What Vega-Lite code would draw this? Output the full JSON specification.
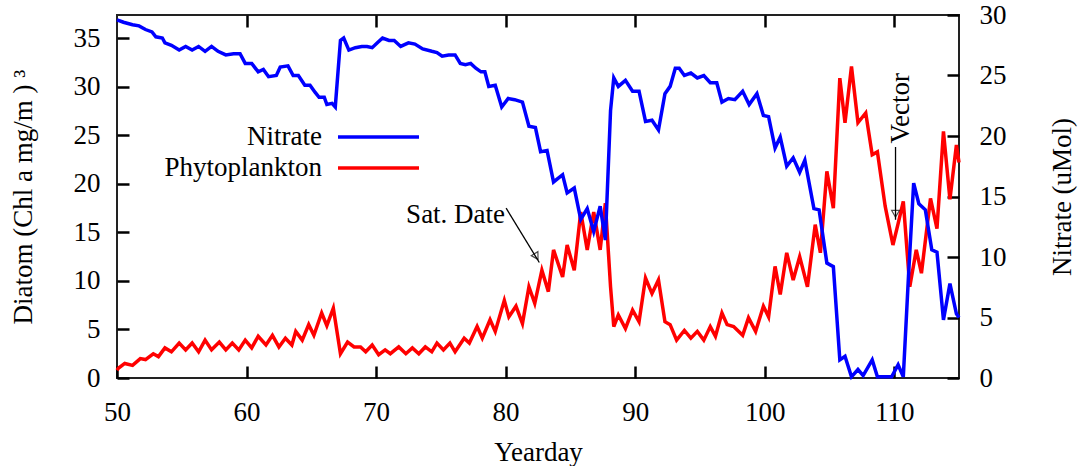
{
  "$schema": "https://vega.github.io/schema/vega-lite/v6.json",
  "width": 842,
  "height": 363,
  "autosize": {"type": "none"},
  "padding": {"left": 117, "top": 15, "right": 120, "bottom": 88},
  "background": "white",
  "config": {
    "view": {"stroke": "#222", "strokeWidth": 2},
    "font": "Liberation Serif",
    "axis": {"labelFont": "Liberation Serif", "titleFont": "Liberation Serif", "labelFontSize": 27, "titleFontSize": 27, "labelColor": "#000", "titleColor": "#000", "titleFontWeight": "normal", "domain": false, "grid": false, "ticks": true, "tickColor": "black", "tickWidth": 2.5, "tickSize": -12}
  },
  "datasets": {
    "phyto": [
      {"day": 50.0, "value": 0.8}, {"day": 50.1, "value": 1.0}, {"day": 50.6, "value": 1.5}, {"day": 51.2, "value": 1.3},
      {"day": 51.8, "value": 2.0}, {"day": 52.2, "value": 1.9}, {"day": 52.8, "value": 2.5}, {"day": 53.2, "value": 2.2},
      {"day": 53.7, "value": 3.1}, {"day": 54.2, "value": 2.7}, {"day": 54.8, "value": 3.6}, {"day": 55.3, "value": 2.9},
      {"day": 55.8, "value": 3.6}, {"day": 56.3, "value": 2.7}, {"day": 56.8, "value": 3.9}, {"day": 57.3, "value": 2.9},
      {"day": 57.9, "value": 3.7}, {"day": 58.4, "value": 2.9}, {"day": 58.9, "value": 3.6}, {"day": 59.4, "value": 2.9},
      {"day": 59.9, "value": 3.9}, {"day": 60.4, "value": 3.1}, {"day": 60.9, "value": 4.3}, {"day": 61.5, "value": 3.4},
      {"day": 62.0, "value": 4.4}, {"day": 62.5, "value": 3.2}, {"day": 63.0, "value": 4.1}, {"day": 63.5, "value": 3.4},
      {"day": 63.8, "value": 4.8}, {"day": 64.3, "value": 3.9}, {"day": 64.8, "value": 5.5}, {"day": 65.2, "value": 4.4},
      {"day": 65.8, "value": 6.7}, {"day": 66.2, "value": 5.4}, {"day": 66.7, "value": 7.2}, {"day": 67.25, "value": 2.5},
      {"day": 67.8, "value": 3.7}, {"day": 68.3, "value": 3.2}, {"day": 68.8, "value": 3.2}, {"day": 69.2, "value": 2.7},
      {"day": 69.7, "value": 3.4}, {"day": 70.2, "value": 2.4}, {"day": 70.7, "value": 2.9}, {"day": 71.1, "value": 2.5},
      {"day": 71.75, "value": 3.2}, {"day": 72.3, "value": 2.5}, {"day": 72.8, "value": 3.1}, {"day": 73.3, "value": 2.5},
      {"day": 73.8, "value": 3.2}, {"day": 74.3, "value": 2.7}, {"day": 74.7, "value": 3.6}, {"day": 75.2, "value": 2.9},
      {"day": 75.7, "value": 3.6}, {"day": 76.1, "value": 2.7}, {"day": 76.8, "value": 4.1}, {"day": 77.2, "value": 3.6},
      {"day": 77.8, "value": 5.3}, {"day": 78.2, "value": 4.1}, {"day": 78.8, "value": 6.0}, {"day": 79.2, "value": 4.8},
      {"day": 79.9, "value": 8.0}, {"day": 80.25, "value": 6.3}, {"day": 80.8, "value": 7.4}, {"day": 81.3, "value": 5.6},
      {"day": 81.8, "value": 9.4}, {"day": 82.25, "value": 7.7}, {"day": 82.8, "value": 11.1}, {"day": 83.3, "value": 8.9},
      {"day": 83.7, "value": 13.2}, {"day": 84.4, "value": 10.4}, {"day": 84.75, "value": 13.7}, {"day": 85.3, "value": 11.1},
      {"day": 85.8, "value": 17.1}, {"day": 86.3, "value": 13.2}, {"day": 86.8, "value": 17.1}, {"day": 87.3, "value": 13.2},
      {"day": 87.7, "value": 18.0}, {"day": 88.1, "value": 9.4}, {"day": 88.35, "value": 5.3}, {"day": 88.7, "value": 6.5},
      {"day": 89.25, "value": 5.1}, {"day": 89.8, "value": 7.0}, {"day": 90.3, "value": 5.8}, {"day": 90.8, "value": 10.3},
      {"day": 91.3, "value": 8.7}, {"day": 91.8, "value": 10.1}, {"day": 92.3, "value": 5.8}, {"day": 92.7, "value": 5.5},
      {"day": 93.2, "value": 3.9}, {"day": 93.8, "value": 4.9}, {"day": 94.3, "value": 4.1}, {"day": 94.8, "value": 4.8},
      {"day": 95.3, "value": 3.9}, {"day": 95.8, "value": 5.3}, {"day": 96.2, "value": 4.3}, {"day": 96.7, "value": 6.7},
      {"day": 97.1, "value": 5.5}, {"day": 97.6, "value": 5.3}, {"day": 98.3, "value": 4.4}, {"day": 98.75, "value": 6.2},
      {"day": 99.3, "value": 4.8}, {"day": 99.9, "value": 7.4}, {"day": 100.3, "value": 6.3}, {"day": 100.8, "value": 11.5},
      {"day": 101.2, "value": 8.6}, {"day": 101.7, "value": 12.9}, {"day": 102.2, "value": 10.1}, {"day": 102.7, "value": 12.5},
      {"day": 103.3, "value": 9.4}, {"day": 103.9, "value": 15.8}, {"day": 104.3, "value": 12.9}, {"day": 104.8, "value": 21.3},
      {"day": 105.3, "value": 17.5}, {"day": 105.8, "value": 30.9}, {"day": 106.2, "value": 26.3}, {"day": 106.7, "value": 32.1},
      {"day": 107.2, "value": 26.3}, {"day": 107.8, "value": 27.3}, {"day": 108.3, "value": 23.0}, {"day": 108.7, "value": 23.3},
      {"day": 109.3, "value": 17.7}, {"day": 109.9, "value": 13.7}, {"day": 110.3, "value": 15.9}, {"day": 110.7, "value": 18.2},
      {"day": 111.2, "value": 9.4}, {"day": 111.7, "value": 13.2}, {"day": 112.1, "value": 10.8}, {"day": 112.8, "value": 18.5},
      {"day": 113.3, "value": 15.4}, {"day": 113.8, "value": 25.4}, {"day": 114.3, "value": 18.4}, {"day": 114.8, "value": 24.0},
      {"day": 115.0, "value": 22.2}
    ],
    "nitrate": [
      {"day": 50.0, "value": 29.6}, {"day": 50.5, "value": 29.4}, {"day": 51.2, "value": 29.2}, {"day": 51.7, "value": 29.1},
      {"day": 52.2, "value": 28.8}, {"day": 52.7, "value": 28.6}, {"day": 53.0, "value": 28.2}, {"day": 53.5, "value": 28.1},
      {"day": 53.7, "value": 27.7}, {"day": 54.2, "value": 27.5}, {"day": 54.8, "value": 27.1}, {"day": 55.3, "value": 27.4},
      {"day": 55.8, "value": 27.1}, {"day": 56.3, "value": 27.4}, {"day": 56.8, "value": 27.0}, {"day": 57.3, "value": 27.4},
      {"day": 57.8, "value": 27.0}, {"day": 58.4, "value": 26.7}, {"day": 59.0, "value": 26.8}, {"day": 59.5, "value": 26.8},
      {"day": 59.9, "value": 26.0}, {"day": 60.4, "value": 26.0}, {"day": 60.9, "value": 25.3}, {"day": 61.3, "value": 25.5},
      {"day": 61.7, "value": 24.9}, {"day": 62.3, "value": 25.0}, {"day": 62.6, "value": 25.7}, {"day": 63.2, "value": 25.8},
      {"day": 63.6, "value": 25.0}, {"day": 64.0, "value": 25.0}, {"day": 64.5, "value": 24.2}, {"day": 64.9, "value": 24.2},
      {"day": 65.3, "value": 23.6}, {"day": 65.6, "value": 23.2}, {"day": 66.0, "value": 23.2}, {"day": 66.2, "value": 22.6},
      {"day": 66.6, "value": 22.7}, {"day": 66.85, "value": 22.4}, {"day": 67.25, "value": 27.9}, {"day": 67.5, "value": 28.1},
      {"day": 67.9, "value": 27.1}, {"day": 68.4, "value": 27.3}, {"day": 68.9, "value": 27.4}, {"day": 69.3, "value": 27.4},
      {"day": 69.7, "value": 27.3}, {"day": 70.1, "value": 27.7}, {"day": 70.5, "value": 28.1}, {"day": 71.0, "value": 27.9},
      {"day": 71.4, "value": 27.9}, {"day": 71.9, "value": 27.4}, {"day": 72.5, "value": 27.7}, {"day": 73.0, "value": 27.6},
      {"day": 73.6, "value": 27.2}, {"day": 74.3, "value": 27.0}, {"day": 74.7, "value": 26.9}, {"day": 75.1, "value": 26.6},
      {"day": 75.6, "value": 26.7}, {"day": 76.1, "value": 26.7}, {"day": 76.5, "value": 26.0}, {"day": 76.9, "value": 25.9},
      {"day": 77.3, "value": 26.0}, {"day": 77.7, "value": 25.6}, {"day": 78.1, "value": 25.3}, {"day": 78.4, "value": 25.3},
      {"day": 78.7, "value": 24.1}, {"day": 79.2, "value": 24.2}, {"day": 79.7, "value": 22.4}, {"day": 80.2, "value": 23.1},
      {"day": 80.7, "value": 23.0}, {"day": 81.3, "value": 22.8}, {"day": 81.8, "value": 20.8}, {"day": 82.3, "value": 20.7},
      {"day": 82.7, "value": 18.7}, {"day": 83.2, "value": 18.8}, {"day": 83.7, "value": 16.2}, {"day": 84.4, "value": 16.8},
      {"day": 84.75, "value": 15.3}, {"day": 85.3, "value": 15.7}, {"day": 85.8, "value": 13.1}, {"day": 86.3, "value": 14.0},
      {"day": 86.8, "value": 12.1}, {"day": 87.3, "value": 14.2}, {"day": 87.7, "value": 11.4}, {"day": 88.1, "value": 22.1},
      {"day": 88.35, "value": 24.8}, {"day": 88.7, "value": 24.1}, {"day": 89.25, "value": 24.6}, {"day": 89.8, "value": 23.7},
      {"day": 90.3, "value": 23.7}, {"day": 90.8, "value": 21.2}, {"day": 91.3, "value": 21.3}, {"day": 91.8, "value": 20.5},
      {"day": 92.3, "value": 23.5}, {"day": 92.7, "value": 24.1}, {"day": 93.1, "value": 25.6}, {"day": 93.4, "value": 25.6},
      {"day": 93.8, "value": 25.0}, {"day": 94.3, "value": 25.2}, {"day": 94.8, "value": 24.8}, {"day": 95.3, "value": 25.0},
      {"day": 95.8, "value": 24.4}, {"day": 96.3, "value": 24.4}, {"day": 96.7, "value": 22.8}, {"day": 97.2, "value": 23.1},
      {"day": 97.7, "value": 23.0}, {"day": 98.3, "value": 23.7}, {"day": 98.8, "value": 22.6}, {"day": 99.4, "value": 23.5},
      {"day": 99.9, "value": 21.7}, {"day": 100.3, "value": 21.6}, {"day": 100.8, "value": 19.0}, {"day": 101.2, "value": 19.9},
      {"day": 101.7, "value": 17.5}, {"day": 102.2, "value": 18.2}, {"day": 102.7, "value": 17.0}, {"day": 103.1, "value": 18.0},
      {"day": 103.8, "value": 14.0}, {"day": 104.2, "value": 13.9}, {"day": 104.8, "value": 9.5}, {"day": 105.3, "value": 9.2},
      {"day": 105.8, "value": 1.5}, {"day": 106.2, "value": 1.8}, {"day": 106.7, "value": 0.1}, {"day": 107.2, "value": 0.7},
      {"day": 107.6, "value": 0.2}, {"day": 108.3, "value": 1.5}, {"day": 108.7, "value": 0.1}, {"day": 109.3, "value": 0.1},
      {"day": 109.8, "value": 0.1}, {"day": 110.3, "value": 1.1}, {"day": 110.7, "value": 0.1}, {"day": 111.1, "value": 8.4},
      {"day": 111.5, "value": 16.1}, {"day": 111.9, "value": 14.4}, {"day": 112.4, "value": 13.9}, {"day": 112.9, "value": 10.6},
      {"day": 113.3, "value": 10.4}, {"day": 113.8, "value": 4.8}, {"day": 114.3, "value": 7.8}, {"day": 114.8, "value": 5.3},
      {"day": 115.0, "value": 5.0}
    ],
    "labels": [
      {"day": 79.96, "value": 16.8, "text": "Sat. Date", "kind": "sat"},
      {"day": 110.5, "value": 27.8, "text": "Vector", "kind": "vec"}
    ],
    "arrows": [
      {"day": 80.04, "value": 17.5, "day2": 82.6, "value2": 11.9, "kind": "sat"},
      {"day": 110.1, "value": 23.8, "day2": 110.1, "value2": 16.3, "kind": "vec"}
    ]
  },
  "layer": [
    {
      "layer": [
        {
          "data": {"name": "phyto"},
          "mark": {"type": "line", "strokeWidth": 3.5, "interpolate": "linear"},
          "encoding": {
            "x": {"field": "day", "type": "quantitative", "scale": {"domain": [50, 115], "nice": false, "zero": false},
                  "axis": {"title": "Yearday", "values": [50, 60, 70, 80, 90, 100, 110], "labelPadding": 33, "titlePadding": 14, "labelFlush": false}},
            "y": {"field": "value", "type": "quantitative", "scale": {"domain": [0, 37.4], "nice": false},
                  "axis": {"title": "Diatom (Chl a mg/m )  \u00b3", "values": [0, 5, 10, 15, 20, 25, 30, 35], "labelPadding": 29, "titlePadding": 36, "titleAngle": 270, "labelFlush": false}},
            "color": {"datum": "Phytoplankton", "type": "nominal",
                      "scale": {"domain": ["Nitrate", "Phytoplankton"], "range": ["#0000ff", "#ff0000"]},
                      "legend": {"title": null, "orient": "none", "legendX": 246, "legendY": 106.5, "symbolType": "M-3,0H3", "symbolSize": 729, "symbolStrokeWidth": 3.5, "labelFont": "Liberation Serif", "labelFontSize": 27, "labelColor": "#000", "labelAlign": "right", "labelOffset": -72, "rowPadding": 2}}
          }
        },
        {
          "data": {"name": "labels"},
          "transform": [{"filter": "datum.kind == 'sat'"}],
          "mark": {"type": "text", "align": "right", "baseline": "middle", "font": "Liberation Serif", "fontSize": 27, "color": "#000"},
          "encoding": {"x": {"field": "day", "type": "quantitative"}, "y": {"field": "value", "type": "quantitative"}, "text": {"field": "text"}}
        },
        {
          "data": {"name": "labels"},
          "transform": [{"filter": "datum.kind == 'vec'"}],
          "mark": {"type": "text", "align": "center", "baseline": "middle", "angle": 270, "font": "Liberation Serif", "fontSize": 27, "color": "#000"},
          "encoding": {"x": {"field": "day", "type": "quantitative"}, "y": {"field": "value", "type": "quantitative"}, "text": {"field": "text"}}
        },
        {
          "data": {"name": "arrows"},
          "mark": {"type": "rule", "color": "#000", "strokeWidth": 1.3},
          "encoding": {"x": {"field": "day", "type": "quantitative"}, "y": {"field": "value", "type": "quantitative"},
                       "x2": {"field": "day2"}, "y2": {"field": "value2"}}
        },
        {
          "data": {"name": "arrows"},
          "transform": [{"filter": "datum.kind == 'sat'"}],
          "mark": {"type": "point", "shape": "triangle-up", "angle": 149, "size": 60, "filled": false, "color": "#000", "strokeWidth": 1.2, "yOffset": -6, "xOffset": -3},
          "encoding": {"x": {"field": "day2", "type": "quantitative"}, "y": {"field": "value2", "type": "quantitative"}}
        },
        {
          "data": {"name": "arrows"},
          "transform": [{"filter": "datum.kind == 'vec'"}],
          "mark": {"type": "point", "shape": "triangle-down", "size": 60, "filled": false, "color": "#000", "strokeWidth": 1.2, "yOffset": -6},
          "encoding": {"x": {"field": "day2", "type": "quantitative"}, "y": {"field": "value2", "type": "quantitative"}}
        }
      ]
    },
    {
      "data": {"name": "nitrate"},
      "mark": {"type": "line", "strokeWidth": 3.5},
      "encoding": {
        "x": {"field": "day", "type": "quantitative", "scale": {"domain": [50, 115], "nice": false, "zero": false},
              "axis": {"orient": "top", "labels": false, "title": null, "values": [60, 70, 80, 90, 100, 110]}},
        "y": {"field": "value", "type": "quantitative", "scale": {"domain": [0, 30], "nice": false},
              "axis": {"orient": "right", "title": "Nitrate (uMol)", "values": [0, 5, 10, 15, 20, 25, 30], "labelPadding": 32, "titlePadding": 70, "titleAngle": 270, "labelFlush": false}},
        "color": {"datum": "Nitrate", "type": "nominal"}
      }
    }
  ],
  "resolve": {"scale": {"y": "independent"}, "axis": {"x": "independent"}}
}
